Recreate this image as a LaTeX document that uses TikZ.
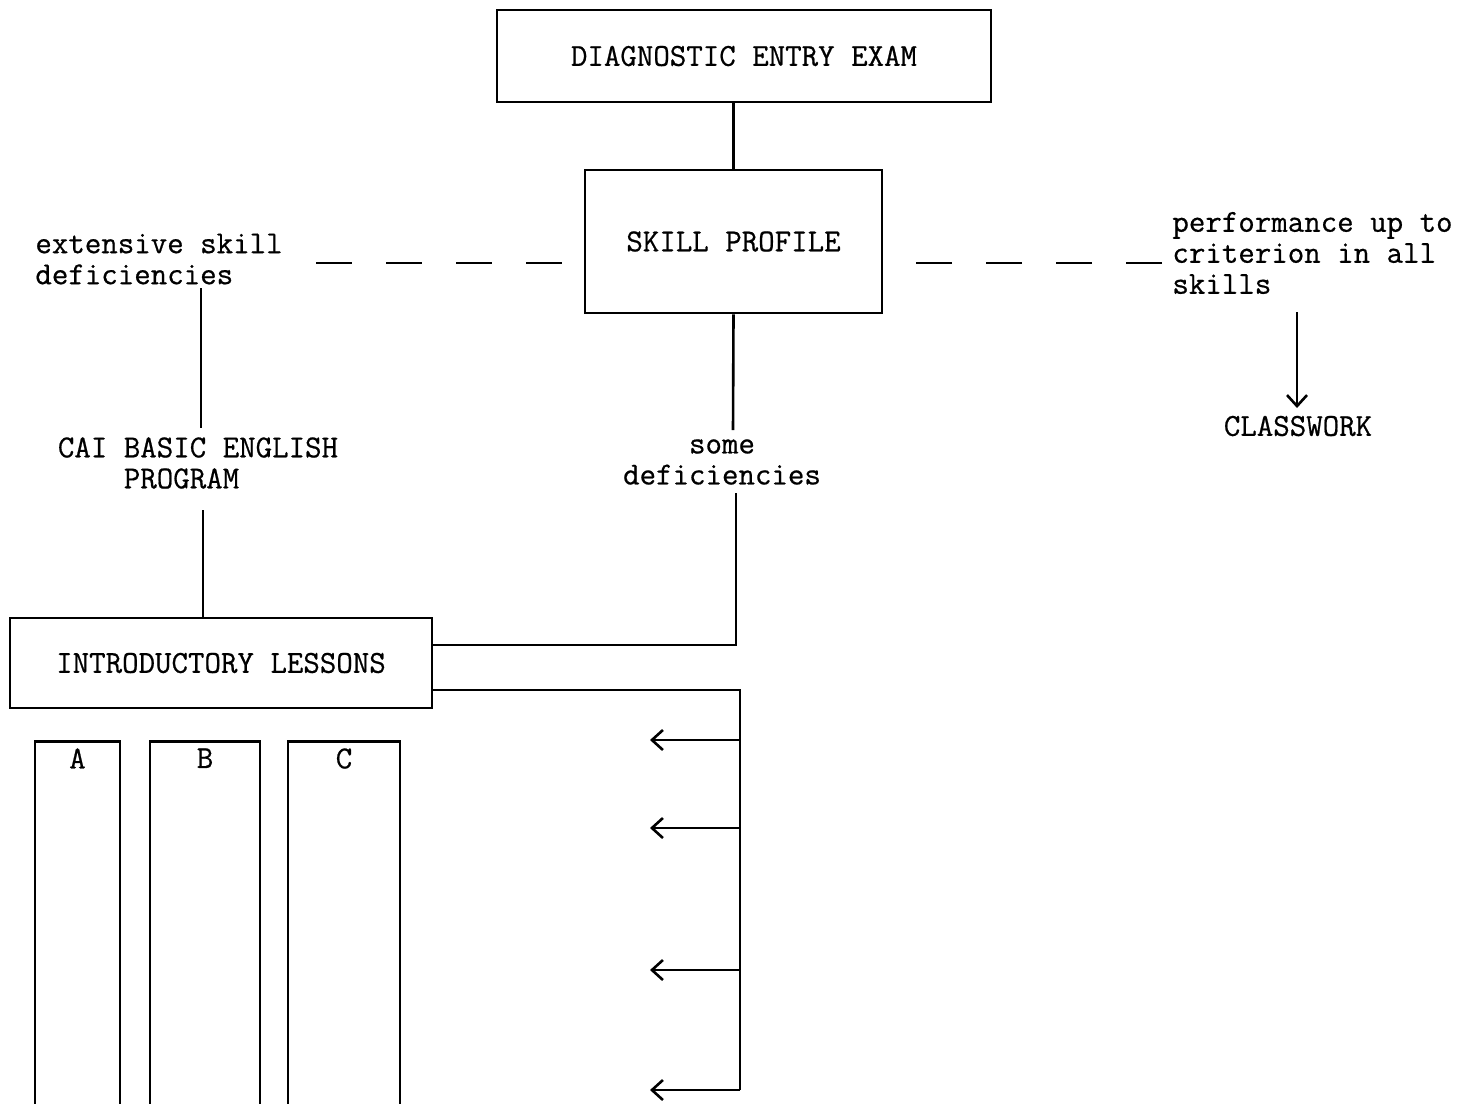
\documentclass[tikz,border=0pt]{standalone}
\usepackage{fontspec}
\newfontfamily\twfont{Latin Modern Mono}[FakeBold=0.6]
\usetikzlibrary{arrows.meta}
\begin{document}
\begin{tikzpicture}[x=0.5pt,y=-0.5pt,
  every node/.style={font=\twfont\fontsize{16}{15.5}\selectfont, inner sep=0pt},
  box/.style={draw, line width=1.3pt, rectangle},
  ln/.style={line width=1.3pt},
  dsh/.style={line width=1.3pt, dash pattern=on 18pt off 17pt},
  arr/.style={line width=1.3pt, -{Straight Barb[length=5.5pt,width=10pt,line width=1.3pt]}}
]
\useasboundingbox (0,0) rectangle (1471,1103);
% boxes
\node[box, minimum width=247pt, minimum height=46pt] (diag) at (744,56) {DIAGNOSTIC ENTRY EXAM};
\node[box, minimum width=148.5pt, minimum height=71.5pt] (skill) at (733.5,241.5) {SKILL PROFILE};
\node[box, minimum width=211pt, minimum height=45pt] (intro) at (221,663) {INTRODUCTORY LESSONS};
% texts
\node[anchor=west, align=left] (ext) at (35,259) {extensive skill\\deficiencies};
\node[anchor=west, align=left] (perf) at (1172,253) {performance up to\\criterion in all\\skills};
\node (classwork) at (1298,426) {CLASSWORK};
\node[align=left] (cai) at (198,463) {CAI BASIC ENGLISH\\\phantom{CAI }PROGRAM};
\node[align=center] (some) at (722,462) {some\\deficiencies};
% columns
\node[box, anchor=north, minimum width=42.5pt, minimum height=190pt] (colA) at (77.5,740) {};
\node[box, anchor=north, minimum width=55pt, minimum height=190pt] (colB) at (205,740) {};
\node[box, anchor=north, minimum width=56pt, minimum height=190pt] (colC) at (344,740) {};
\node[anchor=north] at ([yshift=-4pt]colA.north) {A};
\node[anchor=north] at ([yshift=-4pt]colB.north) {B};
\node[anchor=north] at ([yshift=-4pt]colC.north) {C};
% connectors
\draw[ln] (skill.north) -- (skill.north |- diag.south);
\coordinate (dl1) at (316,263);
\coordinate (dl2) at (566,263);
\draw[dsh] (dl1) -- (dl2);
\coordinate (dr1) at (907,263);
\coordinate (dr2) at (1162,263);
\draw[dsh] (dr2) -- (dr1);
\coordinate (e1) at (201,288);
\coordinate (e2) at (201,428);
\draw[ln] (e1) -- (e2);
\coordinate (c1) at (203,510);
\draw[ln] (c1) -- (c1 |- intro.north);
\coordinate (s1) at (733,430);
\draw[ln] (skill.south) -- (s1);
\coordinate (s2) at (736,493);
\coordinate (s3) at (736,645);
\draw[ln] (s2) -- (s3) -- (s3 -| intro.east);
\coordinate (p1) at (1297,312);
\coordinate (p2) at (1297,408);
\draw[arr] (p1) -- (p2);
\coordinate (b0) at (intro.east |- 0,690);
\coordinate (b1) at (740,690);
\coordinate (b2) at (740,1090);
\draw[ln] (b0) -- (b1) -- (b2);
\foreach \yy/\nm in {740/a1,828/a2,970/a3,1090/a4}{
  \coordinate (\nm s) at (740,\yy);
  \coordinate (\nm e) at (650,\yy);
  \draw[arr] (\nm s) -- (\nm e);
}
\end{tikzpicture}
\end{document}
